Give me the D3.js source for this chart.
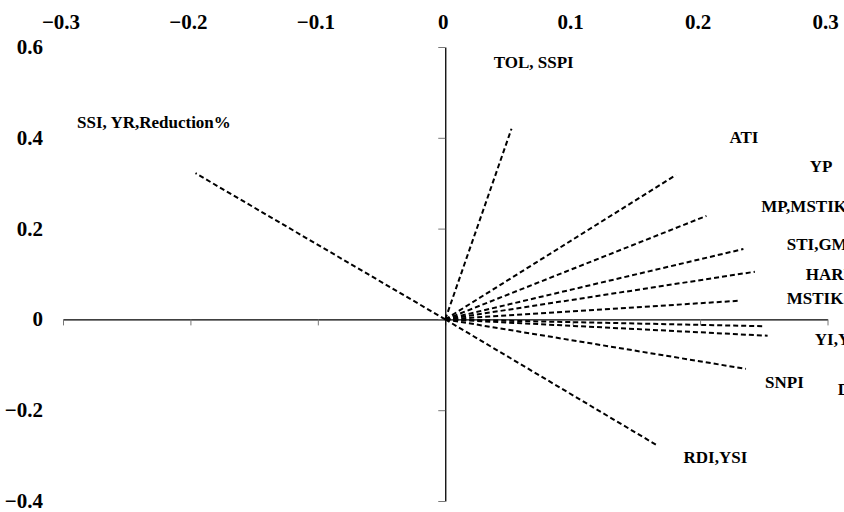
<!DOCTYPE html>
<html>
<head>
<meta charset="utf-8">
<script src="https://cdn.jsdelivr.net/npm/d3@7"></script>
<style>
  body { margin: 0; background: #fff; }
  svg { display: block; }
  text { font-family: "Liberation Serif", "Times New Roman", serif; font-weight: bold; fill: #000; }
</style>
</head>
<body>
<svg id="chart" width="844" height="512"></svg>
<script>
// biplot vectors (PC1, PC2), one per index group
const vecX = [-0.196, 0.052, 0.181, 0.205, 0.234, 0.243, 0.230, 0.249, 0.253, 0.236, 0.166];
const vecY = [0.322, 0.420, 0.318, 0.228, 0.155, 0.105, 0.041, -0.015, -0.036, -0.109, -0.277];

// text labels and where they sit (data units)
const labelNames = ["SSI, YR,Reduction%", "TOL, SSPI", "ATI", "YP", "MP,MSTIK1", "STI,GMP",
    "HARM", "MSTIK2", "YI,YSI", "SNPI", "DI", "RDI,YSI"];
const labelX = [-0.289, 0.038, 0.223, 0.286, 0.248, 0.268, 0.283, 0.268, 0.290, 0.251, 0.308, 0.187];
const labelY = [0.421, 0.553, 0.389, 0.325, 0.237, 0.153, 0.087, 0.034, -0.056, -0.151, -0.166, -0.316];

const xTicks = [-0.3, -0.2, -0.1, 0, 0.1, 0.2, 0.3];
const yTicks = [0.6, 0.4, 0.2, 0, -0.2, -0.4];

const svg = d3.select("#chart");

const x = d3.scaleLinear().domain([-0.3, 0.3]).range([63, 827.5]);
const y = d3.scaleLinear().domain([-0.4, 0.6]).range([501, 47]);

const fmt = d => d === 0 ? "0" : d3.format(".1f")(d);

// horizontal axis through zero, ticks hang down, labels on top of the chart
const gx = svg.append("g")
    .attr("transform", "translate(0," + y(0) + ")")
    .call(d3.axisBottom(x).tickValues(xTicks).tickSize(6).tickSizeOuter(0).tickFormat(""));
gx.select(".domain").attr("stroke", "#000").attr("stroke-width", 1.3);
gx.selectAll(".tick line").attr("stroke", "#777");

svg.append("g").selectAll("text")
    .data(xTicks)
    .enter().append("text")
    .attr("x", d => x(d) - 2)
    .attr("y", 29)
    .attr("text-anchor", "middle")
    .style("font-size", "21px")
    .text(fmt);

// vertical axis through zero, labels on the far left
const gy = svg.append("g")
    .attr("transform", "translate(" + x(0) + ",0)")
    .call(d3.axisLeft(y).tickValues(yTicks).tickSize(7).tickSizeOuter(0).tickFormat(""));
gy.select(".domain").attr("stroke", "#000").attr("stroke-width", 1.3);
gy.selectAll(".tick line").attr("stroke", "#777");

svg.append("g").selectAll("text")
    .data(yTicks)
    .enter().append("text")
    .attr("x", 43)
    .attr("y", d => y(d) + 7)
    .attr("text-anchor", "end")
    .style("font-size", "21px")
    .text(fmt);

// dashed vectors from the origin
svg.append("g").selectAll("line")
    .data(vecX.map((v, i) => ({x: v, y: vecY[i]})))
    .enter().append("line")
    .attr("x1", x(0))
    .attr("y1", y(0))
    .attr("x2", d => x(d.x))
    .attr("y2", d => y(d.y))
    .attr("stroke", "#000")
    .attr("stroke-width", 2)
    .attr("stroke-dasharray", "5,3");

svg.append("g").selectAll("text")
    .data(labelNames)
    .enter().append("text")
    .attr("x", (d, i) => x(labelX[i]))
    .attr("y", (d, i) => y(labelY[i]))
    .style("font-size", "17px")
    .text(d => d);
</script>
</body>
</html>
